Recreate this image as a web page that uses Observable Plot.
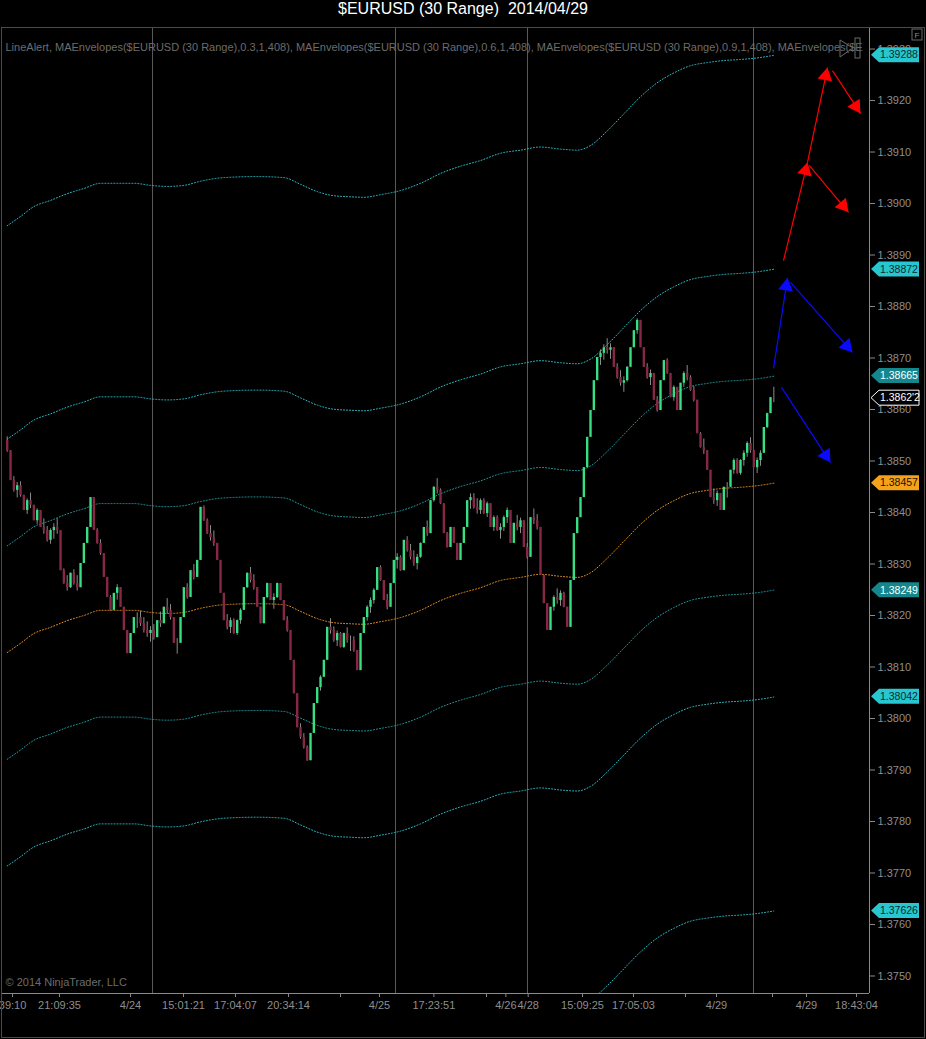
<!DOCTYPE html>
<html><head><meta charset="utf-8">
<script src="https://cdn.jsdelivr.net/npm/d3@7"></script>
<script src="https://cdn.jsdelivr.net/npm/@observablehq/plot@0.6"></script>
<style>
html,body{margin:0;padding:0;background:#000;}
#wrap{position:relative;width:926px;height:1039px;overflow:hidden;background:#000;}
#title{height:27px;line-height:25px;text-align:center;color:#fff;font:16px "Liberation Sans",Arial,sans-serif;white-space:pre;}
#frame{position:absolute;left:1px;top:27px;width:922px;height:1009px;border:1px solid #4a4a4a;pointer-events:none;}
#chart svg{display:block;}
</style></head><body>
<div id="wrap"><div id="title">$EURUSD (30 Range)  2014/04/29</div><div id="chart"></div><div id="frame"></div></div>
<script>
// ---------- data ----------
const firstOpen = 1.38540;
const closes = [
1.38520,1.38462,1.38443,1.38452,1.38433,1.38404,1.38423,1.38414,1.38384,1.38404,
1.38371,1.38365,1.38346,1.38365,1.38371,1.38365,1.38287,1.38262,1.38254,1.38282,
1.38262,1.38254,1.38301,1.38340,1.38371,1.38429,1.38365,1.38340,1.38320,1.38274,
1.38235,1.38210,1.38243,1.38254,1.38216,1.38171,1.38126,1.38165,1.38196,1.38196,
1.38184,1.38171,1.38165,1.38171,1.38157,1.38190,1.38184,1.38216,1.38210,1.38196,
1.38146,1.38146,1.38196,1.38254,1.38235,1.38287,1.38274,1.38307,
1.38410,1.38384,1.38359,1.38351,1.38340,1.38307,1.38243,1.38190,1.38177,1.38190,
1.38165,1.38190,1.38210,1.38254,1.38282,1.38268,1.38254,1.38216,1.38184,1.38235,
1.38262,1.38229,1.38235,1.38262,1.38229,1.38190,1.38171,1.38113,1.38048,1.37982,
1.37963,
1.37944,1.37918,1.37971,1.38029,1.38060,1.38080,1.38113,1.38177,1.38171,1.38151,
1.38165,1.38138,1.38165,1.38151,1.38151,1.38132,1.38093,1.38165,1.38196,1.38216,
1.38229,1.38249,1.38293,1.38268,1.38229,1.38216,1.38262,1.38307,1.38313,1.38287,
1.38346,1.38326,1.38313,1.38301,1.38313,1.38340,1.38371,1.38359,1.38423,1.38449,
1.38443,1.38417,1.38359,1.38332,1.38371,1.38340,1.38307,1.38340,1.38371,1.38423,
1.38429,1.38410,1.38404,1.38423,1.38398,1.38417,1.38371,1.38390,1.38365,1.38371,
1.38390,1.38404,1.38340,1.38379,1.38371,1.38384,1.38332,1.38313,1.38390,1.38384,
1.38371,
1.38278,1.38223,1.38171,1.38216,1.38235,1.38229,1.38243,1.38216,1.38177,1.38268,
1.38359,1.38390,1.38429,1.38487,1.38546,1.38598,1.38656,1.38701,1.38709,1.38720,
1.38715,1.38720,1.38682,1.38662,1.38651,1.38656,1.38682,1.38720,1.38753,1.38773,
1.38720,1.38682,1.38662,1.38670,1.38618,1.38598,1.38656,1.38695,1.38670,1.38623,
1.38643,1.38598,1.38651,1.38670,1.38662,1.38637,1.38618,1.38553,1.38526,1.38520,
1.38482,1.38429,1.38423,1.38437,1.38404,1.38449,1.38449,1.38482,1.38501,1.38476,
1.38501,1.38515,1.38534,1.38520,1.38487,1.38501,1.38515,1.38565,1.38592,1.38623,
1.38622];
const barRange = 0.0003; // 30-tick range bars

const maIndex = [0,4,8,13,18,23,28,33,38,43,48,53,58,65,75,83,88,93,98,103,107,112,118,124,130,136,142,148,154,160,166,171,175,180,185,190,195,200,205,210,215,220,225,230];
const maValue = [1.38128,1.38146,1.38165,1.38177,1.38190,1.38200,1.38210,1.38210,1.38210,1.38206,1.38204,1.38206,1.38214,1.38221,1.38223,1.38221,1.38208,1.38194,1.38186,1.38184,1.38183,1.38188,1.38196,1.38210,1.38229,1.38243,1.38254,1.38268,1.38274,1.38280,1.38276,1.38274,1.38283,1.38311,1.38344,1.38377,1.38404,1.38423,1.38437,1.38443,1.38447,1.38449,1.38452,1.38457];
const envelopePcts = [0.006, 0.003, 0.0015, -0.0015, -0.003, -0.006];
const envelopeColors = ["#2cbfca","#2cbfca","#1f9ea3","#1f9ea3","#2cbfca","#2cbfca"];

const sessionBreaks = [43.6, 116.5, 156.1, 223.9];

const yTicks = [1.3750,1.3760,1.3770,1.3780,1.3790,1.3800,1.3810,1.3820,1.3830,1.3840,1.3850,1.3860,1.3870,1.3880,1.3890,1.3900,1.3910,1.3920,1.3930];
const xTickPos = [1.6,15.7,37,52.9,68.5,84.4,100,111.7,128,143.8,149.6,156.3,172.6,187.9,203.5,212.8,229.6,239.8,254.8];
const xTickLabels = ["39:10","21:09:35","4/24","15:01:21","17:04:07","20:34:14","","4/25","17:23:51","","4/26","4/28","15:09:25","17:05:03","","4/29","","4/29","18:43:04"];

const markerPrices = [1.39288,1.38872,1.38665,1.38622,1.38457,1.38249,1.38042,1.37626];
const markerTexts  = ["1.39288","1.38872","1.38665","1.3862'2","1.38457","1.38249","1.38042","1.37626"];
const markerFills  = ["#27c6d0","#27c6d0","#15878c","#000000","#f3a21a","#15878c","#27c6d0","#27c6d0"];
const markerInk    = ["#0b2a2e","#0b2a2e","#ffffff","#ffffff","#1a1000","#ffffff","#0b2a2e","#0b2a2e"];

// alert drawings: [x1 (bar), y1 (price), x2, y2]
const redSegments = [[232.9,1.38889,240.1,1.39080],[240.1,1.39080,246.1,1.39264],[240.6,1.39074,252.4,1.38983],[247.6,1.39258,256.0,1.39175]];
const blueSegments = [[229.9,1.38680,234.1,1.38856],[235.0,1.38847,253.6,1.38711],[232.3,1.38643,247.0,1.38497]];

const indicatorLabel = "LineAlert, MAEnvelopes($EURUSD (30 Range),0.3,1,408), MAEnvelopes($EURUSD (30 Range),0.6,1,408), MAEnvelopes($EURUSD (30 Range),0.9,1,408), MAEnvelopes($E";
const copyright = "\u00a9 2014 NinjaTrader, LLC";

// ---------- build ----------
const W = 926, H = 1012, mL = 2, mR = 57, mT = 0, mB = 46;
const xDomain = [-1.41, 258.7];
const yDomain = [1.374660, 1.393418];

const bars = closes.map((c, i) => {
  const o = i === 0 ? firstOpen : closes[i - 1];
  const up = c >= o;
  let hi = Math.max(o, c), lo = Math.min(o, c);
  const extra = Math.max(0, barRange - (hi - lo));
  if (up) { hi += extra * 0.3; lo -= extra * 0.7; } else { lo -= extra * 0.3; hi += extra * 0.7; }
  return {i, o, c, hi, lo, up};
});
const ma = maIndex.map((i, k) => ({i, v: maValue[k]}));

const xs = d3.scaleLinear(xDomain, [mL, W - mR]);
const ys = d3.scaleLinear(yDomain, [H - mB, mT]);
function toSegs(arr, color) { return arr.map(s => ({x1: s[0], y1: s[1], x2: s[2], y2: s[3], color})); }
function head(s) {
  const px1 = xs(s.x1), py1 = ys(s.y1), px2 = xs(s.x2), py2 = ys(s.y2);
  const dx = px2 - px1, dy = py2 - py1, L = Math.hypot(dx, dy);
  const cx = px2 - dx / L * 8.5, cy = py2 - dy / L * 8.5;
  return {x: xs.invert(cx), y: ys.invert(cy), angle: Math.atan2(dx, -dy) * 180 / Math.PI, color: s.color};
}
const reds = toSegs(redSegments, "#ff0000"), blues = toSegs(blueSegments, "#0a0aff");
const heads = [...reds, ...blues].map(head);
const labelMap = new Map(xTickPos.map((p, k) => [p, xTickLabels[k]]));

const envelopeMarks = envelopePcts.map((p, k) => Plot.line(ma, {
  x: "i", y: d => d.v * (1 + p), stroke: envelopeColors[k], strokeWidth: 1,
  strokeDasharray: "1,2", curve: "monotone-x", clip: true
}));

const chart = Plot.plot({
  width: W, height: H, marginLeft: mL, marginRight: mR, marginTop: mT, marginBottom: mB,
  x: {domain: xDomain, axis: null},
  y: {domain: yDomain, axis: null},
  style: {background: "#000", color: "#8e8e8e", fontSize: "11px", fontFamily: "'Liberation Sans', Arial, sans-serif"},
  marks: [
    Plot.ruleX(sessionBreaks, {stroke: "#5a5a5a", strokeWidth: 1}),
    ...envelopeMarks,
    Plot.line(ma, {x: "i", y: "v", stroke: "#e8931c", strokeWidth: 1, strokeDasharray: "1,2", curve: "monotone-x"}),
    Plot.ruleX(bars, {x: "i", y1: "lo", y2: "hi", stroke: "#8c8c8c", strokeWidth: 1}),
    Plot.ruleX(bars.filter(d => d.up), {x: "i", y1: "o", y2: "c", stroke: "#38de82", strokeWidth: 2.4}),
    Plot.ruleX(bars.filter(d => !d.up), {x: "i", y1: "o", y2: "c", stroke: "#862845", strokeWidth: 2.4}),
    Plot.link([...reds, ...blues], {x1: "x1", y1: "y1", x2: "x2", y2: "y2", stroke: d => d.color, strokeWidth: 1.2}),
    Plot.dot(heads, {x: "x", y: "y", symbol: "triangle", r: 5.5, fill: d => d.color, rotate: "angle", stroke: "none"}),
    Plot.ruleX([xDomain[1]], {stroke: "#8a8a8a"}),
    Plot.ruleY([yDomain[0]], {stroke: "#8a8a8a"}),
    Plot.axisY({anchor: "right", ticks: yTicks, tickFormat: d3.format(".4f"), tickSize: 5, tickPadding: 3, stroke: "#8a8a8a", fill: "#8e8e8e"}),
    Plot.axisX({anchor: "bottom", ticks: xTickPos, tickFormat: d => labelMap.get(d), tickSize: 4, tickPadding: 4, stroke: "#8a8a8a", fill: "#8e8e8e"}),
    Plot.text([indicatorLabel], {frameAnchor: "top-left", dx: 3, dy: 16, fill: "#6c6c6c", textAnchor: "start"}),
    Plot.text([copyright], {frameAnchor: "bottom-left", dx: 3, dy: -8, fill: "#6c6c6c", textAnchor: "start"})
  ]
});
document.getElementById("chart").appendChild(chart);

// right-axis price markers placed with the plot's y scale
const yScale = chart.scale("y");
const svg = d3.select(chart);
const g = svg.append("g").attr("text-anchor", "start");
markerPrices.forEach((p, k) => {
  const y = yScale.apply(p);
  g.append("polygon")
    .attr("points", `871,${y} 879,${y - 7.5} 919,${y - 7.5} 919,${y + 7.5} 879,${y + 7.5}`)
    .attr("fill", markerFills[k])
    .attr("stroke", markerFills[k] === "#000000" ? "#ffffff" : "none").attr("stroke-width", 1);
  g.append("text").attr("x", 880).attr("y", y).attr("dy", "0.36em").attr("text-anchor", "start")
    .attr("fill", markerInk[k]).attr("font-size", "10.5px").text(markerTexts[k]);
});
// top-right decorations
g.append("polygon").attr("points", "840,13 853,21 840,30").attr("fill", "none").attr("stroke", "#6a6a6a");
g.append("rect").attr("x", 855).attr("y", 11).attr("width", 5).attr("height", 20).attr("fill", "none").attr("stroke", "#6a6a6a");
g.append("rect").attr("x", 912).attr("y", 2).attr("width", 10).attr("height", 11).attr("fill", "none").attr("stroke", "#6a6a6a");
g.append("text").attr("x", 917).attr("y", 8).attr("dy", "0.36em").attr("text-anchor", "middle").attr("fill", "#8a8a8a").attr("font-size", "8px").text("F");
</script>
</body></html>
